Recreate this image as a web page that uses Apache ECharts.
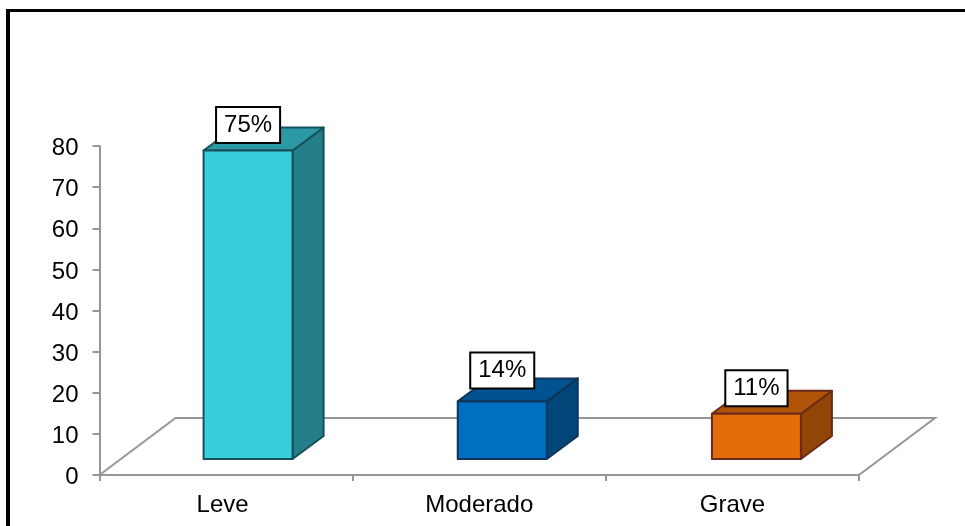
<!DOCTYPE html>
<html>
<head>
<meta charset="utf-8">
<style>html,body{margin:0;padding:0;background:#fff}#chart{position:absolute;left:0;top:0;width:965px;height:526px}</style>
<script src="https://cdn.jsdelivr.net/npm/echarts@6/dist/echarts.min.js"></script>
</head>
<body>
<div id="chart"></div>
<script>
const categories = ['Leve', 'Moderado', 'Grave'];
const values = [75, 14, 11];
const labels = ['75%', '14%', '11%'];
const yTicks = [0, 80];

// Box faces for each bar: front, top, side, outline
const faceFront = ['#38CEDC', '#0070C0', '#E46C0A'];
const faceTop = ['#2C9AA6', '#005291', '#AE5308'];
const faceSide = ['#247F8A', '#004679', '#914607'];
const faceEdge = ['#17505A', '#10345C', '#6B2A1A'];
const labelLift = [25.5, 31, 25.5];
const barShiftX = [22, 23, 24];

// Pseudo-3D projection of the chart floor
const depthX = 31, depthY = 23, floorBackX = 76, floorBackY = 57;
const barWidth = 89, barShiftY = 16;

const fontFamily = '"Liberation Sans", Arial, sans-serif';
const axisGray = '#969696';

function renderFloor(params, api) {
  const a = api.coord([0, 0]);
  const band = api.size([1, 0])[0];
  const x0 = a[0] - band / 2, x1 = x0 + band * categories.length, y = a[1];
  return {
    type: 'polyline',
    shape: { points: [[x0, y], [x0 + floorBackX, y - floorBackY], [x1 + floorBackX, y - floorBackY], [x1, y]] },
    style: { fill: null, stroke: axisGray, lineWidth: 2 },
    silent: true
  };
}

function renderBox(params, api) {
  const i = api.value(0);
  const base = api.coord([i, 0]);
  const top = api.coord([i, api.value(1)]);
  const l = base[0] + barShiftX[i] - barWidth / 2, r = l + barWidth;
  const b = base[1] - barShiftY, t = top[1] - barShiftY;
  const edge = { stroke: faceEdge[i], lineWidth: 2, lineJoin: 'round' };
  const poly = (points, fill) => ({ type: 'polygon', shape: { points }, style: Object.assign({ fill }, edge) });
  return {
    type: 'group',
    children: [
      poly([[r, t], [r + depthX, t - depthY], [r + depthX, b - depthY], [r, b]], faceSide[i]),
      poly([[l, t], [l + depthX, t - depthY], [r + depthX, t - depthY], [r, t]], faceTop[i]),
      poly([[l, t], [r, t], [r, b], [l, b]], faceFront[i]),
      {
        type: 'text',
        z2: 10,
        style: {
          x: (l + r) / 2,
          y: t - labelLift[i],
          text: labels[i],
          align: 'center',
          verticalAlign: 'middle',
          font: '24px ' + fontFamily,
          fill: '#000',
          backgroundColor: '#fff',
          borderColor: '#000',
          borderWidth: 2,
          padding: [6.5, 7, 3.5, 7]
        }
      }
    ]
  };
}

const chart = echarts.init(document.getElementById('chart'), null, { renderer: 'canvas' });
chart.setOption({
  animation: false,
  backgroundColor: '#fff',
  grid: { left: 99.5, right: 106, top: 146, bottom: 51, containLabel: false },
  xAxis: {
    type: 'category',
    data: categories,
    axisLine: { lineStyle: { color: axisGray, width: 2 } },
    axisTick: { show: true, alignWithLabel: false, length: 6, lineStyle: { color: axisGray, width: 2 } },
    axisLabel: {
      color: '#000',
      fontSize: 24,
      fontFamily,
      margin: 18,
      formatter: (name) => (name === 'Leve' ? '{first|' + name + '}' : name),
      rich: { first: { fontSize: 24, fontFamily, color: '#000', padding: [0, 7, 0, 0] } }
    }
  },
  yAxis: {
    type: 'value',
    min: yTicks[0],
    max: yTicks[1],
    interval: 10,
    splitLine: { show: false },
    axisLine: { show: true, lineStyle: { color: axisGray, width: 2 } },
    axisTick: { show: true, length: 7, lineStyle: { color: axisGray, width: 2 } },
    axisLabel: {
      color: '#000',
      fontSize: 24,
      fontFamily,
      margin: 21,
      formatter: (value) => '{tick|' + value + '}',
      rich: { tick: { fontSize: 24, fontFamily, color: '#000', padding: [5, 0, 0, 0] } }
    }
  },
  series: [
    {
      type: 'custom',
      name: 'floor',
      coordinateSystem: 'cartesian2d',
      data: [[0, 0]],
      renderItem: renderFloor,
      silent: true,
      z: 1,
      clip: false
    },
    {
      type: 'custom',
      name: 'Severidad',
      coordinateSystem: 'cartesian2d',
      data: values.map((v, i) => [i, v]),
      encode: { x: 0, y: 1 },
      renderItem: renderBox,
      z: 2,
      clip: false
    }
  ],
  graphic: [
    { type: 'line', shape: { x1: 8, y1: 526, x2: 8, y2: 10.5 }, style: { stroke: '#000', lineWidth: 4 }, silent: true },
    { type: 'line', shape: { x1: 6, y1: 10.5, x2: 965, y2: 10.5 }, style: { stroke: '#000', lineWidth: 3 }, silent: true }
  ]
});
</script>
</body>
</html>
